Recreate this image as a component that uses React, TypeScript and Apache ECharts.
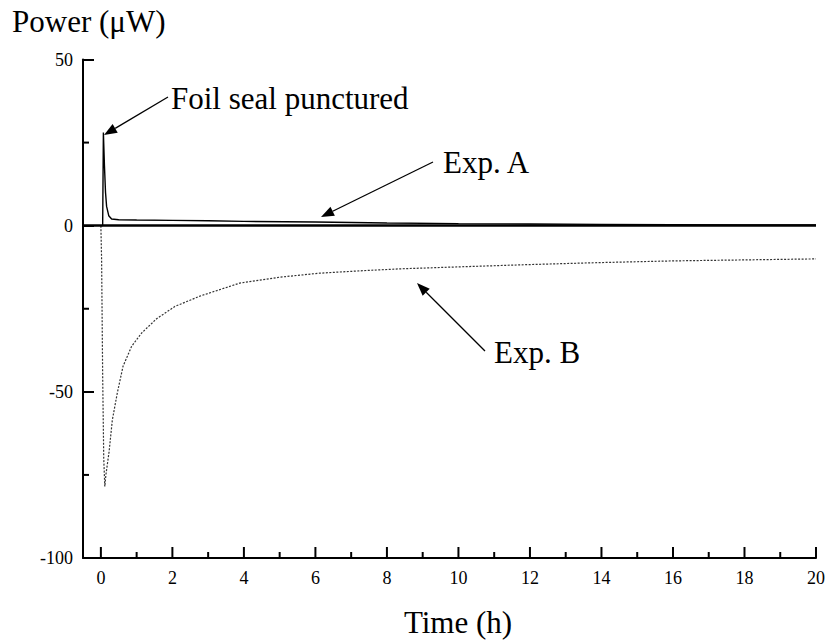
import React, { useEffect, useRef } from "react";
import * as echarts from "echarts";

// Exp. A (solid black) — time (h), power (µW)
const expATime = [0, 0.05, 0.07, 0.1, 0.13, 0.16, 0.22, 0.3, 0.5, 1, 2, 3, 4, 6, 8, 10, 12, 14, 16, 18, 20];
const expAPower = [0, 0, 28, 18, 10, 5.8, 3, 2, 1.8, 1.7, 1.6, 1.5, 1.3, 1.1, 0.8, 0.6, 0.5, 0.4, 0.3, 0.25, 0.2];

// Exp. B (dotted)
const expBTime = [0, 0.02, 0.05, 0.08, 0.11, 0.14, 0.23, 0.32, 0.46, 0.62, 0.86, 1.14, 1.56, 2.07, 2.77, 3.88, 5.0, 6.12, 7.23, 8.35, 10, 12, 14, 16, 18, 20];
const expBPower = [0, -10, -45, -70, -78.5, -75, -68, -58.5, -50.3, -42.3, -36.3, -32.3, -28, -24.3, -21.2, -17.3, -15.5, -14.3, -13.6, -13.0, -12.4, -11.7, -11.1, -10.6, -10.3, -10.0];

// Axis ticks
const xMajorTicks = [0, 2, 4, 6, 8, 10, 12, 14, 16, 18, 20];
const xMinorTicks = [1, 3, 5, 7, 9, 11, 13, 15, 17, 19];
const yMinorTicks = [25, -25, -75];

const X_MIN = -0.5;
const X_MAX = 20;
const Y_MIN = -100;
const Y_MAX = 50;

const FONT = "Liberation Serif";
const TICK = "#000";

function arrow(x1: number, y1: number, x2: number, y2: number) {
  const dx = x2 - x1, dy = y2 - y1;
  const len = Math.sqrt(dx * dx + dy * dy);
  const ux = dx / len, uy = dy / len;
  const L = 13, W = 5;
  const bx = x2 - ux * L, by = y2 - uy * L;
  const nx = -uy, ny = ux;
  return [
    { type: "line", shape: { x1, y1, x2: bx, y2: by }, style: { stroke: "#000", lineWidth: 1.3 }, silent: true },
    {
      type: "polygon",
      shape: { points: [[x2, y2], [bx + nx * W, by + ny * W], [bx - nx * W, by - ny * W]] },
      style: { fill: "#000" },
      silent: true,
    },
  ];
}

function label(text: string, x: number, y: number, align: string = "left") {
  return {
    type: "text",
    x,
    y,
    style: { text, font: `31px "Liberation Serif", serif`, fill: "#000", align, verticalAlign: "middle" },
    silent: true,
  };
}

function xTickSeries(values: number[], len: number, withLabel: boolean) {
  return {
    type: "custom",
    clip: false,
    silent: true,
    z: 5,
    data: values.map((v) => [v, Y_MIN]),
    renderItem: (params: any, api: any) => {
      const p = api.coord([api.value(0), api.value(1)]);
      const children: any[] = [
        { type: "line", shape: { x1: p[0], y1: p[1], x2: p[0], y2: p[1] - len }, style: { stroke: TICK, lineWidth: 2 } },
      ];
      if (withLabel) {
        children.push({
          type: "text",
          x: p[0],
          y: p[1] + 11,
          style: { text: String(api.value(0)), font: `18px "${FONT}", serif`, fill: "#000", align: "center", verticalAlign: "top" },
        });
      }
      return { type: "group", children };
    },
  };
}

function yTickSeries(values: number[], len: number) {
  return {
    type: "custom",
    clip: false,
    silent: true,
    z: 5,
    data: values.map((v) => [X_MIN, v]),
    renderItem: (params: any, api: any) => {
      const p = api.coord([api.value(0), api.value(1)]);
      return { type: "line", shape: { x1: p[0], y1: p[1], x2: p[0] + len, y2: p[1] }, style: { stroke: TICK, lineWidth: 2 } };
    },
  };
}

export default function App() {
  const ref = useRef<HTMLDivElement>(null);
  useEffect(() => {
    document.body.style.margin = "0";
    const chart = echarts.init(ref.current!, null, { renderer: "svg" });
    chart.setOption({
      animation: false,
      backgroundColor: "#fff",
      grid: { left: 83, right: 13, top: 59.5, bottom: 84 },
      xAxis: {
        type: "value",
        min: X_MIN,
        max: X_MAX,
        axisLine: { show: true, onZero: false, lineStyle: { color: "#000", width: 2 } },
        splitLine: { show: false },
        axisTick: { show: false },
        axisLabel: { show: false },
      },
      yAxis: {
        type: "value",
        min: Y_MIN,
        max: Y_MAX,
        interval: 50,
        axisLine: { show: true, onZero: false, lineStyle: { color: "#000", width: 2 } },
        splitLine: { show: false },
        axisTick: { show: true, inside: true, length: 11, lineStyle: { color: TICK, width: 2 } },
        axisLabel: { color: "#000", fontSize: 18, fontFamily: FONT, margin: 10 },
      },
      series: [
        {
          name: "Exp. B",
          type: "line",
          showSymbol: false,
          data: expBTime.map((t, i) => [t, expBPower[i]]),
          lineStyle: { color: "#333", width: 1.2, type: [2, 1.5] },
        },
        {
          name: "Exp. A",
          type: "line",
          showSymbol: false,
          data: expATime.map((t, i) => [t, expAPower[i]]),
          lineStyle: { color: "#000", width: 1.4 },
          markLine: {
            silent: true,
            symbol: "none",
            label: { show: false },
            lineStyle: { color: "#000", width: 2.5, type: "solid" },
            data: [{ yAxis: 0 }],
          },
        },
        xTickSeries(xMajorTicks, 11, true),
        xTickSeries(xMinorTicks, 6, false),
        yTickSeries(yMinorTicks, 6),
      ],
      graphic: [
        label("Power (\u03bcW)", 12, 21),
        label("Time (h)", 458, 622, "center"),
        label("Foil seal punctured", 171, 98),
        ...arrow(168, 97, 104, 135),
        label("Exp. A", 443, 162),
        ...arrow(433, 162, 321, 217),
        label("Exp. B", 494, 352),
        ...arrow(485, 351, 417, 283),
      ],
    });
    return () => chart.dispose();
  }, []);
  return <div ref={ref} style={{ width: 829, height: 642 }} />;
}
